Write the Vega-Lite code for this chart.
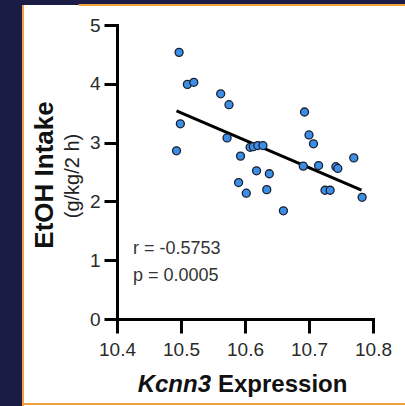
{
  "$schema": "https://vega.github.io/schema/vega-lite/v6.json",
  "width": 256,
  "height": 294,
  "autosize": {"type": "none"},
  "padding": {"left": 117, "top": 25, "right": 32, "bottom": 87},
  "background": "white",
  "config": {"view": {"stroke": null}, "font": "Liberation Sans"},
  "datasets": {
    "points": [
      {"x": 10.497, "y": 4.535}, {"x": 10.510, "y": 3.99}, {"x": 10.520, "y": 4.025},
      {"x": 10.499, "y": 3.32}, {"x": 10.493, "y": 2.86}, {"x": 10.562, "y": 3.83},
      {"x": 10.575, "y": 3.645}, {"x": 10.572, "y": 3.08}, {"x": 10.593, "y": 2.77},
      {"x": 10.590, "y": 2.32}, {"x": 10.602, "y": 2.14}, {"x": 10.608, "y": 2.92},
      {"x": 10.613, "y": 2.93}, {"x": 10.620, "y": 2.95}, {"x": 10.628, "y": 2.95},
      {"x": 10.618, "y": 2.52}, {"x": 10.638, "y": 2.47}, {"x": 10.634, "y": 2.20},
      {"x": 10.660, "y": 1.84}, {"x": 10.693, "y": 3.52}, {"x": 10.700, "y": 3.13},
      {"x": 10.707, "y": 2.98}, {"x": 10.691, "y": 2.60}, {"x": 10.715, "y": 2.61},
      {"x": 10.725, "y": 2.19}, {"x": 10.733, "y": 2.19}, {"x": 10.742, "y": 2.59},
      {"x": 10.745, "y": 2.56}, {"x": 10.770, "y": 2.74}, {"x": 10.783, "y": 2.07}
    ],
    "fit": [{"x": 10.493, "y": 3.54}, {"x": 10.782, "y": 2.19}],
    "frame": [
      {"x": 10.0, "x2": 10.2516, "y": -2, "y2": 6},
      {"x": 10.0, "x2": 11.0, "y": 5.34, "y2": 6}
    ],
    "border": [
      {"x": 10.2531, "x2": 10.2531, "y": -2, "y2": 5.34},
      {"x": 10.34, "x2": 11.0, "y": 5.34, "y2": 5.34},
      {"x": 10.2531, "x2": 11.0, "y": -1.446, "y2": -1.446}
    ]
  },
  "encoding": {
    "x": {
      "field": "x", "type": "quantitative", "title": null,
      "scale": {"domain": [10.4, 10.8], "nice": false, "zero": false},
      "axis": {
        "values": [10.4, 10.5, 10.6, 10.7, 10.8], "format": ".1f", "grid": false,
        "domainColor": "black", "domainWidth": 3, "domainCap": "square",
        "tickColor": "black", "tickWidth": 3, "tickSize": 14,
        "labelFontSize": 19, "labelColor": "#2a2a2a", "labelPadding": 7,
        "labelFont": "Liberation Sans", "labelFlush": false, "labelOverlap": false
      }
    },
    "y": {
      "field": "y", "type": "quantitative", "title": null,
      "scale": {"domain": [0, 5], "nice": false, "zero": false},
      "axis": {
        "values": [0, 1, 2, 3, 4, 5], "format": "d", "grid": false,
        "domainColor": "black", "domainWidth": 3, "domainCap": "square",
        "tickColor": "black", "tickWidth": 3, "tickSize": 13,
        "labelFontSize": 19, "labelColor": "#2a2a2a", "labelPadding": 4,
        "labelFont": "Liberation Sans", "labelFlush": false, "labelOverlap": false
      }
    }
  },
  "layer": [
    {
      "data": {"name": "frame"},
      "mark": {"type": "rect", "color": "#1b1c45"},
      "encoding": {"x2": {"field": "x2"}, "y2": {"field": "y2"}}
    },
    {
      "data": {"name": "border"},
      "mark": {"type": "rule", "color": "#f0a040", "strokeWidth": 2},
      "encoding": {"x2": {"field": "x2"}, "y2": {"field": "y2"}}
    },
    {
      "data": {"name": "fit"},
      "mark": {"type": "line", "color": "black", "strokeWidth": 3},
      "encoding": {}
    },
    {
      "data": {"name": "points"},
      "mark": {"type": "point", "shape": "circle", "filled": true, "size": 64, "color": "#3b8fe6", "stroke": "#1a1f2e", "strokeWidth": 1.3, "opacity": 1}
    },
    {
      "data": {"values": [{"x": 10.425, "y": 1.19, "label": "r = -0.5753"}, {"x": 10.425, "y": 0.731, "label": "p = 0.0005"}]},
      "mark": {"type": "text", "fontSize": 18, "align": "left", "baseline": "middle", "color": "#333"},
      "encoding": {"text": {"field": "label"}}
    },
    {
      "data": {"values": [{"x": 10.5469, "y": -1.122, "label": "Kcnn3"}]},
      "mark": {"type": "text", "fontSize": 24, "fontWeight": "bold", "fontStyle": "italic", "align": "right", "baseline": "middle", "color": "#111"},
      "encoding": {"text": {"field": "label"}}
    },
    {
      "data": {"values": [{"x": 10.5578, "y": -1.122, "label": "Expression"}]},
      "mark": {"type": "text", "fontSize": 24, "fontWeight": "bold", "align": "left", "baseline": "middle", "color": "#111"},
      "encoding": {"text": {"field": "label"}}
    },
    {
      "data": {"values": [{"x": 10.2875, "y": 2.449, "label": "EtOH Intake"}]},
      "mark": {"type": "text", "fontSize": 26, "fontWeight": "bold", "angle": 270, "align": "center", "baseline": "middle", "color": "#111"},
      "encoding": {"text": {"field": "label"}}
    },
    {
      "data": {"values": [{"x": 10.3313, "y": 2.432, "label": "(g/kg/2 h)"}]},
      "mark": {"type": "text", "fontSize": 20, "angle": 270, "align": "center", "baseline": "middle", "color": "#222"},
      "encoding": {"text": {"field": "label"}}
    }
  ]
}
